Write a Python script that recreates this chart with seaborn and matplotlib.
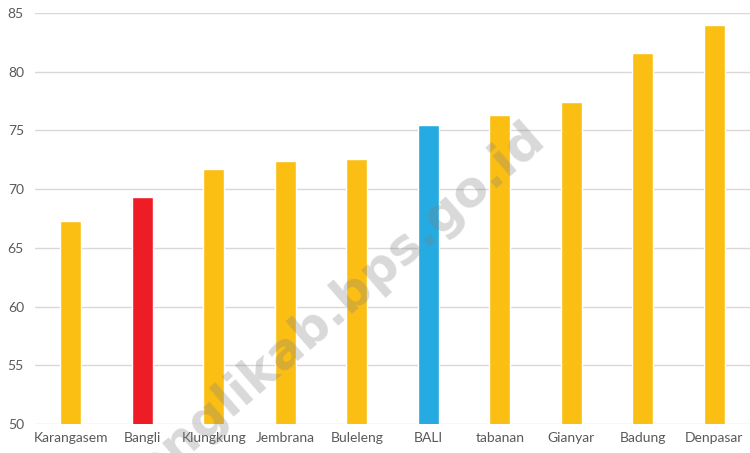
import matplotlib
matplotlib.use("Agg")
import matplotlib.pyplot as plt
import seaborn as sns
import pandas as pd

# Regency values (sorted ascending), province average highlighted
regions = ["Karangasem", "Bangli", "Klungkung", "Jembrana", "Buleleng",
           "BALI", "tabanan", "Gianyar", "Badung", "Denpasar"]
values = [67.3, 69.3, 71.7, 72.4, 72.6, 75.5, 76.3, 77.4, 81.6, 84.0]
y_ticks = [50, 55, 60, 65, 70, 75, 80, 85]

gold = "#FBBF14"
colors = {r: gold for r in regions}
colors["Bangli"] = "#EE1C25"
colors["BALI"] = "#25AAE1"

df = pd.DataFrame({"region": regions, "value": values})

sns.set_theme(style="white")
plt.rcParams["font.family"] = ["Lato", "DejaVu Sans"]

fig = plt.figure(figsize=(7.5, 4.53), dpi=100)
ax = fig.add_axes([35 / 750, 1 - 424 / 453, 1 - 35 / 750, (424 - 13) / 453])

sns.barplot(data=df, x="region", y="value", hue="region", palette=colors,
            width=0.3, legend=False, ax=ax, saturation=1, zorder=3)

ax.set_ylim(50, 85)
ax.set_xlim(-0.5, 9.5)
ax.set_yticks(y_ticks)
ax.yaxis.grid(True, color="#DDD6D6", linewidth=1.0, zorder=0)
ax.set_axisbelow(True)
for s in ax.spines.values():
    s.set_visible(False)
ax.set_xlabel("")
ax.set_ylabel("")
ax.tick_params(axis="both", length=0, colors="#595959", labelsize=10)
ax.tick_params(axis="x", pad=6)
ax.tick_params(axis="y", pad=8)

# Site watermark across the plot
fig.text(327 / 750, 1 - 314 / 453, "banglikab.bps.go.id", rotation=41,
         rotation_mode="anchor", ha="center", va="center", fontsize=36,
         fontweight="bold", color="#808080", alpha=0.3,
         family=["DejaVu Sans"], zorder=10)

fig.savefig("out.png", dpi=100)
